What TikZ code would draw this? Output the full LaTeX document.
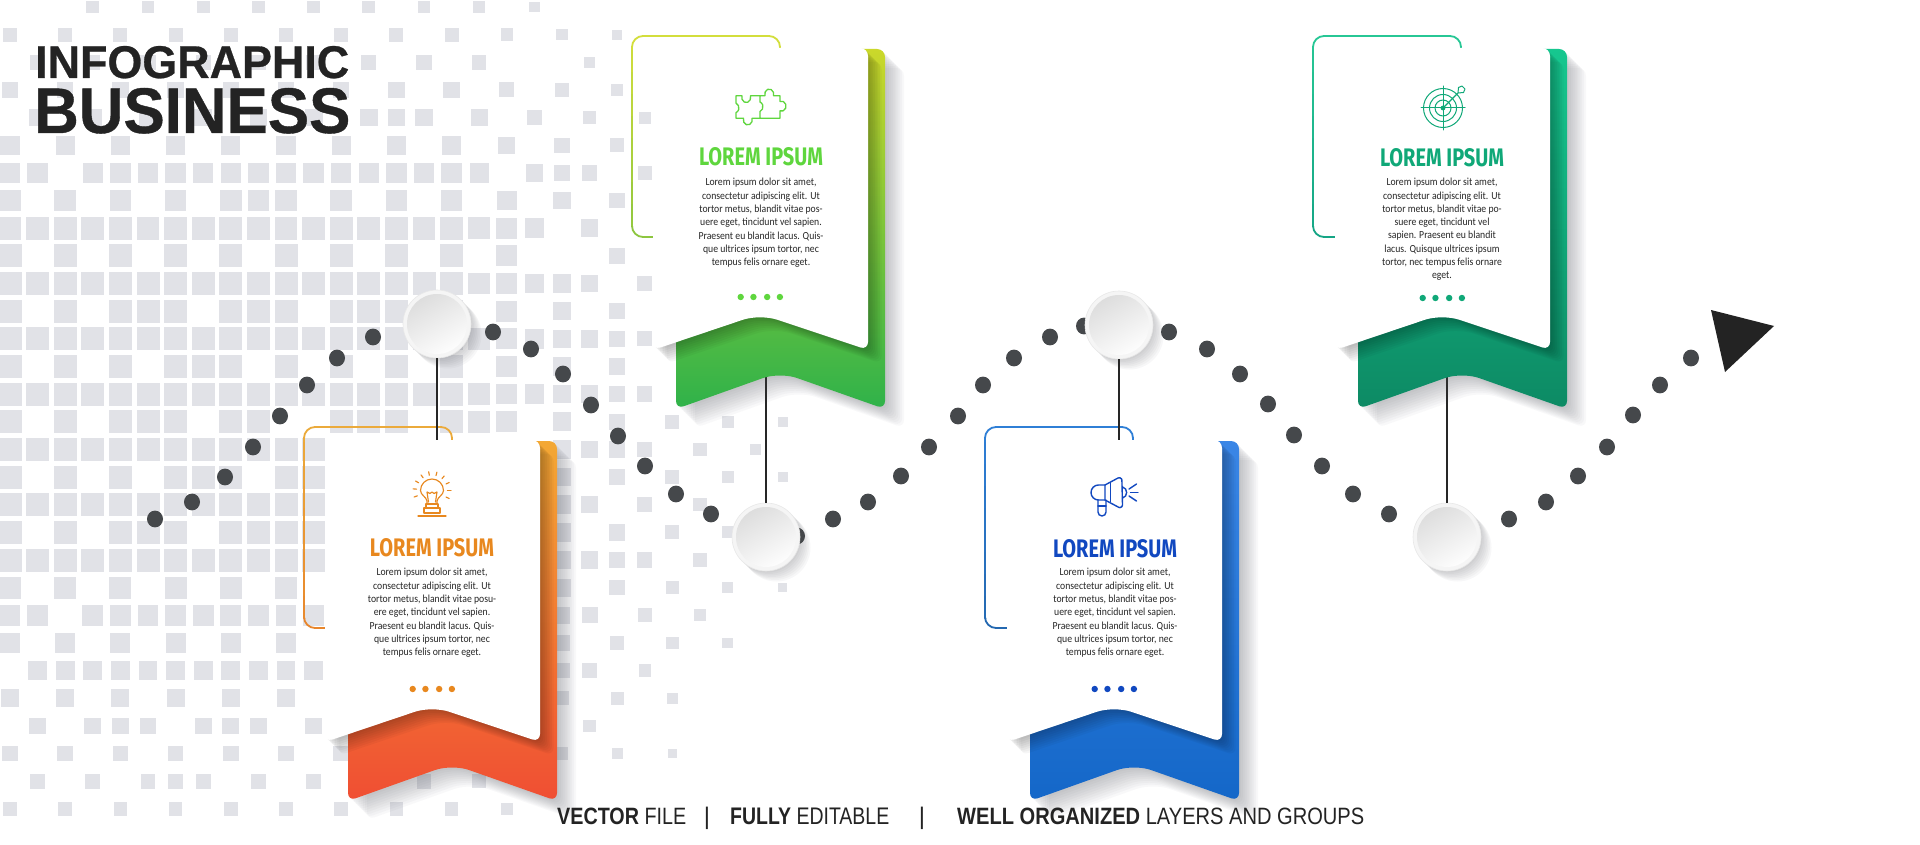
\documentclass[tikz,border=0pt]{standalone}
\usepackage{fontspec}
\usepackage{graphicx}
\setmainfont{Liberation Sans}
\newfontfamily\headf[UprightFont={* Bold},FakeBold=0.6]{Liberation Sans}
\newfontfamily\capf{Fira Sans}[BoldFont={Fira Sans Bold}]
\newfontfamily\bodyf[FakeStretch=0.9]{Carlito}
\definecolor{sq}{HTML}{E1E2E7}
\definecolor{dotc}{HTML}{45484B}
\definecolor{ink}{HTML}{232323}
\definecolor{shad}{HTML}{4A4C55}
\definecolor{Ot}{HTML}{F3A834}\definecolor{Om}{HTML}{D9602C}\definecolor{Ob}{HTML}{F04E33}\definecolor{Ol}{HTML}{EBAA3B}\definecolor{Ol2}{HTML}{E8862C}\definecolor{Ox}{HTML}{E8881F}
\definecolor{Gt}{HTML}{CBD82B}\definecolor{Gm}{HTML}{55B93F}\definecolor{Gb}{HTML}{2FB24A}\definecolor{Gl}{HTML}{D3DE3C}\definecolor{Gl2}{HTML}{8DC63F}\definecolor{Gx}{HTML}{5FD63E}
\definecolor{Bt}{HTML}{3A86E6}\definecolor{Bm}{HTML}{1556AE}\definecolor{Bb}{HTML}{1467C8}\definecolor{Bl}{HTML}{2F7FD6}\definecolor{Bl2}{HTML}{2468B0}\definecolor{Bx}{HTML}{1148C0}
\definecolor{Tt}{HTML}{16C78F}\definecolor{Tm}{HTML}{0D7554}\definecolor{Tb}{HTML}{0D8A64}\definecolor{Tl}{HTML}{27C795}\definecolor{Tl2}{HTML}{15A585}\definecolor{Tx}{HTML}{10A878}
\tikzset{
  hubn/.style={circle,minimum size=68pt,inner sep=0pt,fill=white!96!black,draw=black!9,line width=.6pt,
    path picture={\shade[top color=black!14,bottom color=white,shading angle=30] (path picture bounding box.center) circle (30pt);}},
  cardtitle/.style={inner sep=0pt,anchor=base},
  bodytxt/.style={inner sep=0pt,align=center,text=black!85,font=\bodyf\fontsize{10.8}{13.3}\selectfont},
  foot/.style={inner sep=0pt,anchor=base west,text=ink},
  sepbar/.style={inner sep=0pt,text=ink,font=\fontsize{24}{24}\selectfont},
  iconline/.style={line width=1.15pt,line cap=round,line join=round},
  conn/.style={line width=2pt,draw=black!85},
  dotn/.style={fill=dotc}
}
\newcommand{\ribbonpath}{[rounded corners=8pt] (348,441) -- (557,441) -- (557,801) [rounded corners=18pt] -- (452,764) [rounded corners=8pt] -- (348,801) -- cycle}
\newcommand{\whitepath}{[rounded corners=8pt] (325,440) -- (540,440) -- (540,742) [rounded corners=18pt] -- (432,706) [rounded corners=8pt] -- (325,742) -- cycle}
\newcommand{\outlinecard}[4]{\begin{scope}[shift={(#1,#2)}]
  \foreach \b in {0,...,9}{
    \pgfmathsetmacro\p{100-\b*100/9}
    \colorlet{mixc}{#3!\p!#4}
    \begin{scope}
      \clip (295,{420+\b*22}) rectangle (460,{420+(\b+1)*22});
      \draw[mixc,line width=1.8pt,rounded corners=11pt] (304,427) rectangle (452,628);
    \end{scope}
  }
\end{scope}}
\newcommand{\bodycard}[5]{\begin{scope}[shift={(#1,#2)}]
  \foreach \i in {1,...,10}{\fill[shad,fill opacity=.035,shift={({\i*1.9},{\i*1.9})}] \ribbonpath;}
  \shade[top color=#3,middle color=#4,bottom color=#5] \ribbonpath;
  \foreach \i in {1,...,8}{\fill[black,fill opacity=.035,shift={({\i*1.7},{\i*1.7})}] \whitepath;}
  \fill[white] \whitepath;
\end{scope}}
\newcommand{\fourdots}[3]{\foreach \q in {-20,-7,7,20}{\fill[#3] ({#1+\q*.98+.3},#2) circle (3.2pt);}}
\newcommand{\hub}[3]{%
  \foreach \i in {1,...,7}{\fill[shad,fill opacity=.04] ({#2+\i*1.5},{#3+\i*1.5}) circle (34pt);}
  \node[hubn] (#1) at (#2,#3) {};}
\begin{document}
\begin{tikzpicture}[x=1pt,y=-1pt]
\useasboundingbox (0,0) rectangle (1920,845);
\fill[white] (0,0) rectangle (1920,845);
% mosaic
\foreach \r/\l in {
0/{3,5,7,9,11,13,15,17,19},
1/{0,2,4,6,8,10,12,14,16,18,20,22},
2/{1,3,5,7,9,11,13,15,17,21},
3/{0,2,4,6,8,10,12,14,16,18,20,22},
4/{1,3,5,7,9,11,13,14,15,17,19,21,23},
5/{0,2,4,6,8,10,12,14,16,18,20,22},
6/{0,1,3,4,5,6,7,8,9,10,11,12,13,14,15,16,17,19,20,21,23},
7/{0,2,4,6,8,9,10,12,14,16,18,20,22},
8/{0,1,2,3,4,5,6,7,8,9,10,11,12,13,14,15,16,17,18,19,21},
9/{0,2,4,6,8,10,12,14,16,18,22},
10/{0,1,2,3,4,5,6,7,8,9,10,11,12,13,14,15,16,17,18,19,20,21,23},
11/{0,2,4,5,6,8,9,10,12,13,14,16,18,20,22},
12/{0,1,2,3,4,5,6,7,8,9,10,11,12,13,14,15,16,17,18,19,20,21,22,23},
13/{0,2,4,6,7,8,10,12,14,16,18,20,22},
14/{0,1,2,3,4,5,6,7,8,9,10,11,12,13,14,15,16,17,18,19,20,21,22,23},
15/{0,2,4,5,6,8,9,12,13,14,16,17,18,20,22,24,26,28},
16/{0,1,2,3,4,5,6,7,8,9,10,11,20,21,22,23,25,27},
17/{0,2,4,6,7,8,10,11,20,22,24,26,28},
18/{0,1,2,3,4,5,6,7,8,9,10,11,20,21,23,25},
19/{0,2,4,5,6,8,9,10,11,20,22,24,26,28},
20/{0,1,2,3,4,5,6,7,8,9,10,11,20,21,22,23,25},
21/{0,2,4,6,8,10,20,22,24,26,28},
22/{0,1,3,4,5,6,7,8,9,10,11,20,21,23,25},
23/{0,2,4,6,8,10,20,22,24,26},
24/{1,2,3,4,5,6,7,8,9,10,11,20,21,23},
25/{0,2,4,6,8,10,20,22,24},
26/{1,3,4,5,7,8,9,11,21},
27/{0,2,4,6,8,10,12,20,22,24},
28/{1,3,5,6,7,9,11,15,17},
29/{0,2,4,6,8,10,12,14,16,18}}{
  \foreach \k in \l {
    \pgfmathsetmacro\s{23*min(1,min(.55+.056*\r,1-(\r-20)*.045))*min(1,1-(\k-16)*.048)}
    \pgfmathsetmacro\cx{10+27.6*\k}
    \pgfmathsetmacro\cy{7+27.65*\r}
    \fill[sq] ({\cx-\s/2},{\cy-\s/2}) rectangle ({\cx+\s/2},{\cy+\s/2});
  }
}
% dotted path
\foreach \x/\y in {155/519,192/502,225/477,253/447,280/416,307/385,337/358,373/337,
  493/332,531/349,563/374,591/405,618/436,645/466,676/494,711/514,
  797/536,833/519,868/502,901/476,929/447,958/416,983/385,1014/358,1050/337,1084/326,
  1169/332,1207/349,1240/374,1268/404,1294/435,1322/466,1353/494,1389/514,
  1509/519,1546/502,1578/476,1607/447,1633/415,1660/385,1691/358}{
  \fill[dotn] (\x,\y) ellipse (8pt and 8.4pt);
}
\fill[ink] (1711,310) -- (1774,326) -- (1725,372) -- cycle;
% hubs
\hub{c1}{437}{324}
\hub{c2}{766}{537}
\hub{c3}{1119}{325}
\hub{c4}{1447}{537}
% card backs and stems
\outlinecard{0}{0}{Ol}{Ol2}
\outlinecard{328}{-391}{Gl}{Gl2}
\outlinecard{681}{0}{Bl}{Bl2}
\outlinecard{1009}{-391}{Tl}{Tl2}
\coordinate (k1) at (437,446);
\coordinate (k2) at (766,372);
\coordinate (k3) at (1119,446);
\coordinate (k4) at (1447,372);
\draw[conn] (c1.south) -- (k1);
\draw[conn] (c2.north) -- (k2);
\draw[conn] (c3.south) -- (k3);
\draw[conn] (c4.north) -- (k4);
\bodycard{0}{0}{Ot}{Om}{Ob}
\bodycard{328}{-392}{Gt}{Gm}{Gb}
\bodycard{682}{0}{Bt}{Bm}{Bb}
\bodycard{1010}{-392}{Tt}{Tm}{Tb}
% card texts
\node[cardtitle,text=Ox] (t1) at (432,556) {\resizebox{124pt}{18pt}{\capf\bfseries LOREM IPSUM}};
\node[bodytxt] (b1) at (432,613) {Lorem ipsum dolor sit amet,\\consectetur adipiscing elit. Ut\\tortor metus, blandit vitae posu-\\ere eget, tincidunt vel sapien.\\Praesent eu blandit lacus. Quis-\\que ultrices ipsum tortor, nec\\tempus felis ornare eget.};
\fourdots{432}{689}{Ox}
\node[cardtitle,text=Gx] (t2) at (761,166) {\resizebox{124pt}{18pt}{\capf\bfseries LOREM IPSUM}};
\node[bodytxt] (b2) at (761,223) {Lorem ipsum dolor sit amet,\\consectetur adipiscing elit. Ut\\tortor metus, blandit vitae pos-\\uere eget, tincidunt vel sapien.\\Praesent eu blandit lacus. Quis-\\que ultrices ipsum tortor, nec\\tempus felis ornare eget.};
\fourdots{760}{297}{Gx}
\node[cardtitle,text=Bx] (t3) at (1115,557) {\resizebox{124pt}{18pt}{\capf\bfseries LOREM IPSUM}};
\node[bodytxt] (b3) at (1115,613) {Lorem ipsum dolor sit amet,\\consectetur adipiscing elit. Ut\\tortor metus, blandit vitae pos-\\uere eget, tincidunt vel sapien.\\Praesent eu blandit lacus. Quis-\\que ultrices ipsum tortor, nec\\tempus felis ornare eget.};
\fourdots{1114}{689}{Bx}
\node[cardtitle,text=Tx] (t4) at (1442,167) {\resizebox{124pt}{18pt}{\capf\bfseries LOREM IPSUM}};
\node[bodytxt] (b4) at (1442,229.5) {Lorem ipsum dolor sit amet,\\consectetur adipiscing elit. Ut\\tortor metus, blandit vitae po-\\suere eget, tincidunt vel\\sapien. Praesent eu blandit\\lacus. Quisque ultrices ipsum\\tortor, nec tempus felis ornare\\eget.};
\fourdots{1442}{298}{Tx}
% bulb
\begin{scope}[shift={(432,495)},y=1pt,iconline,draw=Ox]
  \foreach \a in {-25,0,...,205}{\draw ({15.5*cos(\a)},{4.5+15.5*sin(\a)}) -- ({19*cos(\a)},{4.5+19*sin(\a)});}
  \draw (-5,-9) -- (-5,-6) .. controls (-5.5,-2) and (-11.5,0) .. (-11.5,4.5) arc[start angle=180,end angle=0,radius=11.5] .. controls (11.5,0) and (5.5,-2) .. (5,-6) -- (5,-9);
  \draw (-3.5,-7) -- (-5,3) -- (-2,1.5) -- (0,3) -- (2,1.5) -- (5,3) -- (3.5,-7);
  \draw (-6,-9) rectangle (6,-13);
  \draw (-8,-13) rectangle (8,-18);
  \draw (-14,-21) -- (14,-21);
\end{scope}
% puzzle
\begin{scope}[shift={(760,107)},y=1.12pt,iconline,draw=Gx,line width=1.3pt]
  \draw (0,10) -- (5,10) arc[start angle=200,end angle=-20,radius=4.5] -- (20,10) -- (20,5) arc[start angle=110,end angle=-110,radius=4.5] -- (20,-10) -- (0,-10) -- (0,-4) arc[start angle=-70,end angle=70,radius=4.5] -- cycle;
  \draw (0,10) -- (-9.54,10) arc[start angle=20,end angle=-200,radius=4.5] -- (-24,10) -- (-24,3.46) arc[start angle=70,end angle=-70,radius=4.5] -- (-24,-10) -- (-16.46,-10) arc[start angle=160,end angle=380,radius=4.5] -- (0,-10);
\end{scope}
% megaphone
\begin{scope}[shift={(1114,496)},y=1pt,iconline,draw=Bx,line width=1.4pt]
  \draw (-9,11) -- (-15.5,11) arc[start angle=90,end angle=270,radius=7.5] -- (-9,-4);
  \draw (-9,11) -- (4,18) arc[start angle=120,end angle=0,radius=2.6] -- (8.5,-9) arc[start angle=0,end angle=-120,radius=2.6] -- (-9,-4) -- cycle;
  \draw (-3.5,13.5) -- (-3.5,-5.5);
  \draw (8.5,9) .. controls (14,8) and (14,-1) .. (8.5,-2);
  \draw (15,7) -- (22.5,12);
  \draw (16.5,3.5) -- (24,3.5);
  \draw (15,0) -- (22.5,-5);
  \draw (-16,-4) -- (-16,-16) arc[start angle=180,end angle=360,radius=4] -- (-8,-4);
  \draw (-16,-10) -- (-8,-10);
\end{scope}
% target
\begin{scope}[shift={(1443,108)},y=1pt,iconline,draw=Tx,line width=1pt]
  \draw (0,0) circle[radius=19.5];
  \draw (0,0) circle[radius=13.5];
  \draw (0,0) circle[radius=8];
  \draw (-22,0) -- (22,0);
  \draw (0,-22) -- (0,22);
  \fill[Tx] (0,0) circle[radius=2.4];
  \draw[line width=1.3pt] (0,0) -- (15,15);
  \draw (15,15) -- (15.5,20.5) -- (19,22) -- (22,19) -- (20.5,15.5) -- cycle;
\end{scope}
% headline
\node[inner sep=0pt,anchor=base west,text=ink] (h1) at (35,78) {\resizebox{314pt}{32pt}{\headf INFOGRAPHIC}};
\node[inner sep=0pt,anchor=base west,text=ink] (h2) at (34,133) {\resizebox{316pt}{45pt}{\headf BUSINESS}};
% footer
\node[foot] (f1) at (557,824) {\resizebox{129pt}{16.5pt}{\textbf{VECTOR} FILE}};
\node[sepbar] (s1) at (707,818) {|};
\node[foot] (f2) at (730,824) {\resizebox{159pt}{16.5pt}{\textbf{FULLY} EDITABLE}};
\node[sepbar] (s2) at (922,818) {|};
\node[foot] (f3) at (957,824) {\resizebox{407pt}{16.5pt}{\textbf{WELL ORGANIZED} LAYERS AND GROUPS}};
\end{tikzpicture}
\end{document}
